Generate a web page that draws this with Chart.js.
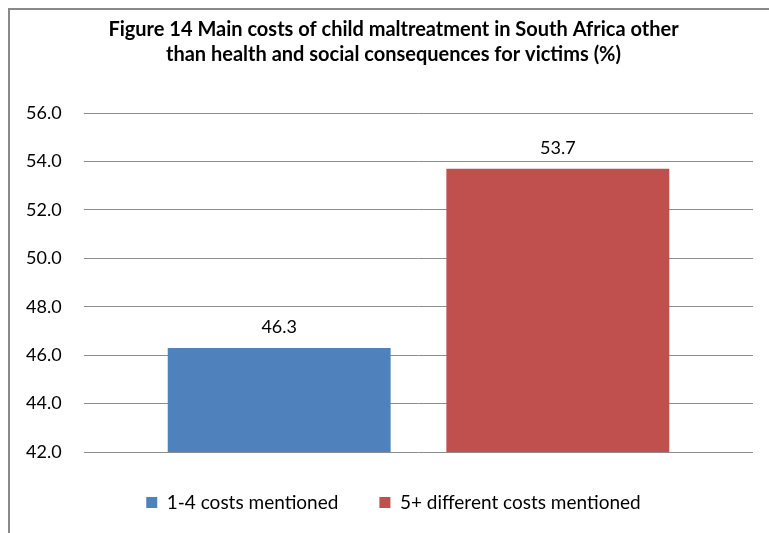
<!DOCTYPE html>
<html>
<head>
<meta charset="utf-8">
<script src="https://cdn.jsdelivr.net/npm/chart.js@4"></script>
<style>
    body { margin: 0; background: #fff; overflow: hidden; }
    #frame { position: absolute; left: 8px; top: 8px; width: 800px; height: 600px; border: 2px solid #898989; }
    #wrap { position: absolute; left: 0; top: 0; width: 769px; height: 533px; }
</style>
</head>
<body>
<div id="frame"></div>
<div id="wrap"><canvas id="costsChart"></canvas></div>
<script>
const categories = [""];
const seriesNames = ["1-4 costs mentioned", "5+ different costs mentioned"];
const seriesValues = [[46.3], [53.7]];
const seriesColors = ["#4F81BD", "#C0504D"];
const yTicks = [42, 44, 46, 48, 50, 52, 54, 56];

// draws the value above each bar
const valueLabels = {
    id: "valueLabels",
    afterDatasetsDraw(chart) {
        const ctx = chart.ctx;
        ctx.save();
        ctx.font = "18px Lato";
        ctx.fillStyle = "#000";
        ctx.textAlign = "center";
        ctx.textBaseline = "bottom";
        chart.data.datasets.forEach(function (ds, i) {
            chart.getDatasetMeta(i).data.forEach(function (bar, j) {
                ctx.fillText(ds.data[j].toFixed(1), bar.x, bar.y - 12);
            });
        });
        ctx.restore();
    }
};

document.addEventListener("DOMContentLoaded", function () {
    const ctx = document.getElementById("costsChart").getContext("2d");

    new Chart(ctx, {
        type: "bar",
        data: {
            labels: categories,
            datasets: seriesNames.map(function (name, i) {
                return {
                    label: name,
                    data: seriesValues[i],
                    backgroundColor: seriesColors[i],
                    barPercentage: 0.8,
                    categoryPercentage: 0.833,
                };
            }),
        },
        options: {
            responsive: true,
            maintainAspectRatio: false,
            animation: false,
            // left padding is wide so title and legend sit right of centre as in the original
            layout: { padding: { left: 34, right: 16, top: 0, bottom: 11 } },
            scales: {
                x: { display: false },
                y: {
                    min: 42,
                    max: 56,
                    afterBuildTicks: function (scale) {
                        scale.ticks = yTicks.map(function (v) { return { value: v }; });
                    },
                    afterFit: function (scale) { scale.width = 50; },
                    border: { display: false },
                    grid: { color: "#8c8c8c", drawTicks: false },
                    ticks: {
                        // mirrored labels are not clipped to the narrow axis box
                        mirror: true,
                        crossAlign: "near",
                        padding: -58,
                        color: "#000",
                        font: { family: "Lato", size: 18 },
                        callback: function (v) { return Number(v).toFixed(1); },
                    },
                },
            },
            plugins: {
                title: {
                    display: true,
                    text: [
                        "Figure 14 Main costs of child maltreatment in South Africa other",
                        "than health and social consequences for victims (%)",
                    ],
                    color: "#000",
                    font: { family: "Lato", size: 20, weight: "bold", lineHeight: 1.25 },
                    padding: { top: 17, bottom: 46 },
                },
                legend: {
                    position: "bottom",
                    labels: {
                        color: "#000",
                        font: { family: "Lato", size: 19 },
                        boxWidth: 11,
                        boxHeight: 11,
                        padding: 41,
                    },
                },
                tooltip: { enabled: false },
            },
        },
        plugins: [valueLabels],
    });
});
</script>
</body>
</html>
